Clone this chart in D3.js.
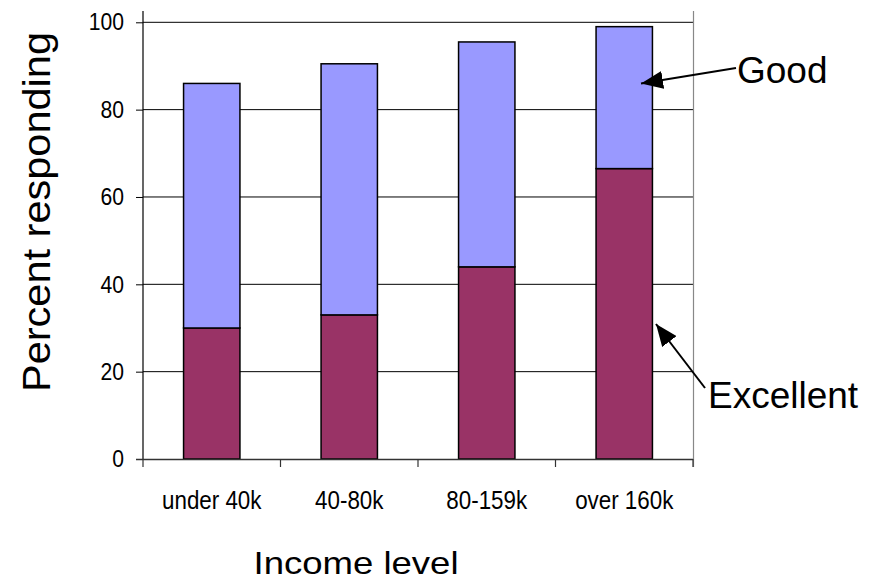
<!DOCTYPE html>
<html><head><meta charset="utf-8">
<script src="https://cdn.jsdelivr.net/npm/d3@7"></script>
<style>body{margin:0;background:#fff}</style></head>
<body><svg id="c" width="876" height="580"></svg>
<script>
const categories = ["under 40k", "40-80k", "80-159k", "over 160k"];
const excellent = [30, 33, 44, 66.5];
const good = [56, 57.5, 51.5, 32.5];
const yTicks = [0, 20, 40, 60, 80, 100];
const seriesNames = ["Excellent", "Good"];
const colors = {Excellent: "#993366", Good: "#9999FF"};

const svg = d3.select("#c");
const x = d3.scaleBand().domain(categories).range([143, 693]).paddingInner(0).paddingOuter(0);
const y = d3.scaleLinear().domain([0, 100]).range([459, 22.3]);
const sans = "'Liberation Sans', Arial, sans-serif";

function squeeze(sel, f) {
  sel.each(function() {
    const w = this.getComputedTextLength();
    d3.select(this).attr("textLength", w * f).attr("lengthAdjust", "spacingAndGlyphs");
  });
}

// gridlines
svg.append("g").selectAll("line").data(yTicks.filter(d => d > 0)).join("line")
  .attr("x1", 143).attr("x2", 693).attr("y1", d => y(d)).attr("y2", d => y(d))
  .attr("stroke", "#000").attr("stroke-width", 1);

// right border
svg.append("line").attr("x1", 693.5).attr("x2", 693.5).attr("y1", y(102.6)).attr("y2", 467)
  .attr("stroke", "#888").attr("stroke-width", 1.2);

// stacked bars
const rows = categories.map((c, i) => ({cat: c, Excellent: excellent[i], Good: good[i]}));
const stack = d3.stack().keys(seriesNames)(rows);
const bw = x.bandwidth() * 0.41;
svg.append("g").selectAll("g").data(stack).join("g")
  .attr("fill", d => colors[d.key])
  .selectAll("rect").data(d => d).join("rect")
  .attr("x", d => x(d.data.cat) + (x.bandwidth() - bw) / 2)
  .attr("width", bw)
  .attr("y", d => y(d[1]))
  .attr("height", d => y(d[0]) - y(d[1]))
  .attr("stroke", "#000").attr("stroke-width", 1.5);

// y axis
const ya = svg.append("g").attr("transform", "translate(143,0)")
  .call(d3.axisLeft(y).tickValues(yTicks).tickSize(7).tickPadding(12));
ya.select(".domain").attr("d", `M0,${y(102.6)}V${y(0)}`).attr("stroke", "#000").attr("stroke-width", 1.2);
ya.selectAll(".tick line").attr("stroke", "#000");
ya.selectAll("text").attr("font-family", sans).attr("font-size", 24).attr("fill", "#000");
squeeze(ya.selectAll("text"), 0.88);

// x axis
const xa = svg.append("g").attr("transform", `translate(0,${y(0)})`)
  .call(d3.axisBottom(x).tickSize(0).tickPadding(0));
xa.select(".domain").attr("d", `M136,0.5H693`).attr("stroke", "#333").attr("stroke-width", 1.5);
xa.selectAll(".tick text").attr("font-family", sans).attr("font-size", 26).attr("fill", "#000")
  .attr("dy", 0).attr("y", 50);
squeeze(xa.selectAll(".tick text"), 0.86);
const bounds = categories.map(c => x(c)).concat([x.range()[1]]);
svg.append("g").selectAll("line").data(bounds).join("line")
  .attr("x1", d => d).attr("x2", d => d).attr("y1", y(0)).attr("y2", y(0) + 8)
  .attr("stroke", "#333").attr("stroke-width", 1.2);

// axis titles
svg.append("text").attr("transform", "translate(50,212) rotate(-90)")
  .attr("text-anchor", "middle").attr("font-family", sans).attr("font-size", 38)
  .attr("textLength", 360).attr("lengthAdjust", "spacingAndGlyphs").text("Percent responding");
svg.append("text").attr("x", 356).attr("y", 574)
  .attr("text-anchor", "middle").attr("font-family", sans).attr("font-size", 32)
  .attr("textLength", 205).attr("lengthAdjust", "spacingAndGlyphs").text("Income level");

// annotations
const defs = svg.append("defs");
defs.append("marker").attr("id", "ah").attr("viewBox", "0 0 22 18").attr("refX", 22).attr("refY", 9)
  .attr("markerWidth", 22).attr("markerHeight", 18).attr("markerUnits", "userSpaceOnUse").attr("orient", "auto")
  .append("path").attr("d", "M0,0L22,9L0,18Z").attr("fill", "#000");
svg.append("line").attr("x1", 736).attr("y1", 68).attr("x2", 641).attr("y2", 83.5)
  .attr("stroke", "#000").attr("stroke-width", 2).attr("marker-end", "url(#ah)");
svg.append("line").attr("x1", 705).attr("y1", 388).attr("x2", 656).attr("y2", 324)
  .attr("stroke", "#000").attr("stroke-width", 2).attr("marker-end", "url(#ah)");
svg.append("text").attr("x", 737).attr("y", 83).attr("font-family", sans).attr("font-size", 37).text("Good");
svg.append("text").attr("x", 708).attr("y", 408).attr("font-family", sans).attr("font-size", 37).text("Excellent");
</script></body></html>
